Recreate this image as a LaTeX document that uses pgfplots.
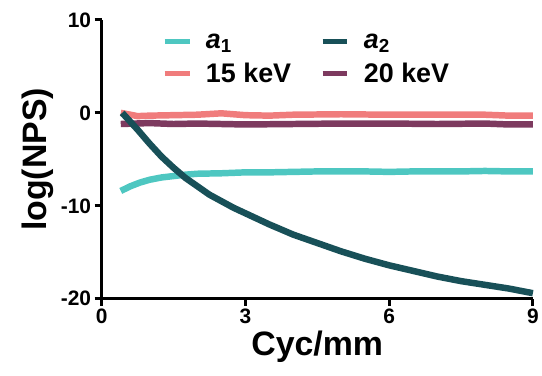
\documentclass[border=0pt]{standalone}
\usepackage{fontspec}
\setmainfont{Liberation Sans}
\usepackage{pgfplots}
\pgfplotsset{compat=1.18}
\definecolor{cA}{RGB}{78,199,193}
\definecolor{cB}{RGB}{24,80,88}
\definecolor{cC}{RGB}{240,124,124}
\definecolor{cD}{RGB}{125,58,95}
\begin{document}
\begin{tikzpicture}
\begin{axis}[
 scale only axis, width=433pt, height=280pt,
 xmin=0, xmax=9, ymin=-20, ymax=10,
 axis x line*=bottom, axis y line*=left,
 axis line style={line width=2.8pt, -},
 xtick={0,3,6,9}, ytick={-20,-10,0,10},
 xticklabels={0,3,6,9}, yticklabels={-20,-10,0,10},
 tick style={line width=2.8pt, black},
 major tick length=7pt, tick align=outside,
 tick label style={font=\bfseries\fontsize{21}{21}\selectfont},
 xlabel={Cyc/mm}, ylabel={log(NPS)},
 label style={font=\bfseries\fontsize{34}{34}\selectfont},
 clip=false,
 legend columns=2,
 legend cell align=left,
 legend style={draw=none, fill=none, at={(0.133,0.965)}, anchor=north west,
   font=\bfseries\fontsize{27}{27}\selectfont, row sep=9pt,
   /tikz/every odd column/.append style={column sep=12pt},
   /tikz/every even column/.append style={column sep=27pt}},
 legend image code/.code={\draw[#1, line width=5pt] (0pt,0pt) -- (25pt,0pt);},
 every axis plot/.append style={line width=6.5pt, line join=round},
]
\path (axis cs:-2.12,12.14) rectangle (axis cs:9.15,-28.25);
\addlegendimage{cA, line width=6.5pt}
\addlegendentry{\textit{a}\textsubscript{1}}
\addlegendimage{cB, line width=6.5pt}
\addlegendentry{\textit{a}\textsubscript{2}}
\addlegendimage{cC, line width=6.5pt}
\addlegendentry{15 keV}
\addlegendimage{cD, line width=6.5pt}
\addlegendentry{20 keV}
% 15 keV
\addplot[cC, forget plot] coordinates {
(0.4,0.0) (0.75,-0.35) (1.0,-0.3) (1.5,-0.25) (2.0,-0.2) (2.5,-0.05) (3.0,-0.25) (3.5,-0.3) (4.0,-0.2) (5.0,-0.15) (6.0,-0.2) (7.0,-0.2) (8.0,-0.2) (8.5,-0.3) (9.0,-0.3)};
% 20 keV
\addplot[cD, forget plot] coordinates {
(0.4,-1.2) (1.0,-1.1) (1.5,-1.2) (2.0,-1.15) (2.5,-1.2) (3.0,-1.25) (4.0,-1.2) (5.0,-1.15) (6.0,-1.15) (7.0,-1.2) (8.0,-1.15) (8.5,-1.25) (9.0,-1.25)};
% a1
\addplot[cA, forget plot] coordinates {
(0.4,-8.4) (0.6,-7.9) (0.8,-7.5) (1.0,-7.2) (1.25,-6.95) (1.5,-6.8) (1.75,-6.65) (2.0,-6.55) (2.5,-6.5) (3.0,-6.4) (3.5,-6.4) (4.0,-6.35) (4.5,-6.3) (5.0,-6.3) (5.5,-6.3) (6.0,-6.35) (6.5,-6.3) (7.0,-6.3) (7.5,-6.3) (8.0,-6.25) (8.5,-6.3) (9.0,-6.3)};
% a2
\addplot[cB, forget plot] coordinates {
(0.43,0) (0.75,-1.8) (1.0,-3.3) (1.25,-4.7) (1.5,-5.9) (1.75,-7.0) (2.0,-7.9) (2.25,-8.8) (2.5,-9.5) (2.75,-10.2) (3.0,-10.8) (3.5,-12.0) (4.0,-13.1) (4.5,-14.0) (5.0,-14.9) (5.5,-15.7) (6.0,-16.4) (6.5,-17.0) (7.0,-17.6) (7.5,-18.1) (8.0,-18.5) (8.5,-18.9) (9.0,-19.4)};
\end{axis}
\end{tikzpicture}
\end{document}
